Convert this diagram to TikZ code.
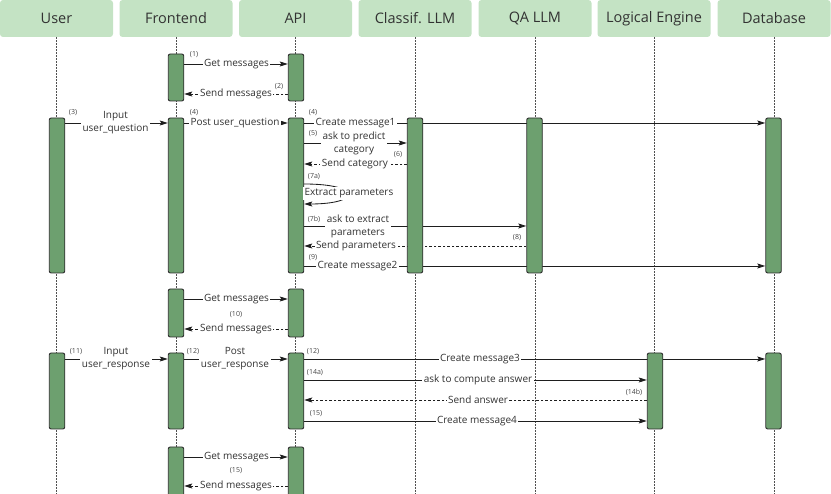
\documentclass[tikz,border=0pt]{standalone}
\usepackage{fontspec}
\setmainfont{Open Sans}
\usetikzlibrary{arrows.meta,backgrounds}

\begin{document}
\begin{tikzpicture}[x=1pt,y=-1pt,>={Stealth[length=8pt,width=5pt,inset=1.5pt]},
  head/.style={fill=headcolor,rounded corners=3pt,minimum width=113pt,
    minimum height=37pt,text=textcolor,font=\fontsize{14.5}{16}\selectfont},
  bar/.style={draw=barline,fill=barcolor,rounded corners=2pt,
    minimum width=15.5pt,inner sep=0pt,line width=0.9pt},
  life/.style={guidecolor,dash pattern=on 1.5pt off 1.5pt,line width=0.7pt},
  msg/.style={->,linecolor,line width=0.85pt},
  reply/.style={msg,dash pattern=on 2.5pt off 2pt},
  lbl/.style={fill=white,inner sep=1.5pt,text=textcolor,align=center,
    font=\fontsize{10}{13}\selectfont},
  num/.style={inner sep=0pt,text=numcolor,font=\fontsize{7}{8}\selectfont}]
\definecolor{headcolor}{RGB}{196,227,196}
\definecolor{barcolor}{RGB}{109,160,111}
\definecolor{barline}{RGB}{45,45,45}
\definecolor{textcolor}{RGB}{50,50,50}
\definecolor{numcolor}{RGB}{70,70,70}
\definecolor{linecolor}{RGB}{30,30,30}
\definecolor{guidecolor}{RGB}{80,80,80}

\useasboundingbox (0,0) rectangle (831,494);
\clip (0,0) rectangle (831,494);

% Participants along the top.
\foreach \nm/\x/\txt in {user/56.5/User, front/176/Frontend, api/295.5/API,
    cls/415/Classif. LLM, qa/535/QA LLM, logic/654/Logical Engine,
    db/774/Database}
  \node[head] (h\nm) at (\x,18.5) {\txt};

% Activation bars: name/x/top/bottom.
\foreach \nm/\x/\ya/\yb in {front1/176/54/101, api1/296/54/101,
    user2/57/118/273, front2/176/118/273, api2/296/118/273,
    cls2/415/118/273, qa2/534.5/118/273, db2/773.5/118/273,
    front3/176/289/337, api3/296/289/337,
    user4/57/353/429, front4/176/353/429, api4/296/353/429,
    logic4/655/353/429, db4/773.5/353/429,
    front5/176/447/505, api5/296/447/505}
  \node[bar,minimum height={\yb-\ya}] (\nm) at (\x,{(\ya+\yb)/2}) {};

\begin{pgfonlayer}{background}
% Lifelines.
\foreach \nm in {user,front,api,cls,qa,logic,db}
  \draw[life] (h\nm.south) -- (h\nm.south |- 0,500);

% First polling round.
\draw[msg] (front1.east |- 0,64) -- (api1.west |- 0,64);
\draw[reply] (api1.west |- 0,94) -- (front1.east |- 0,94);

% Question from the user.
\draw[msg] (user2.east |- 0,123) -- (front2.west |- 0,123);
\draw[msg] (front2.east |- 0,123) -- (api2.west |- 0,123);
\draw[msg] (api2.east |- 0,123) -- (db2.west |- 0,123);
\draw[msg] (api2.east |- 0,143) -- (cls2.west |- 0,143);
\draw[reply] (cls2.west |- 0,164) -- (api2.east |- 0,164);
\draw[msg] (api2.east |- 0,184) .. controls (362,184) and (362,204)
  .. (api2.east |- 0,204);
\draw[msg] (api2.east |- 0,226) -- (qa2.west |- 0,226);
\draw[reply] (qa2.west |- 0,246) -- (api2.east |- 0,246);
\draw[msg] (api2.east |- 0,266) -- (db2.west |- 0,266);

% Second polling round.
\draw[msg] (front3.east |- 0,299) -- (api3.west |- 0,299);
\draw[reply] (api3.west |- 0,329) -- (front3.east |- 0,329);

% Response from the user.
\draw[msg] (user4.east |- 0,359) -- (front4.west |- 0,359);
\draw[msg] (front4.east |- 0,359) -- (api4.west |- 0,359);
\draw[msg] (api4.east |- 0,359) -- (db4.west |- 0,359);
\draw[msg] (api4.east |- 0,380) -- (logic4.west |- 0,380);
\draw[reply] (logic4.west |- 0,400) -- (api4.east |- 0,400);
\draw[msg] (api4.east |- 0,421) -- (logic4.west |- 0,421);

% Third polling round.
\draw[msg] (front5.east |- 0,457) -- (api5.west |- 0,457);
\draw[reply] (api5.west |- 0,486) -- (front5.east |- 0,486);
\end{pgfonlayer}

% Message texts.
\node[lbl] (tGet1) at (236.5,64) {Get messages};
\node[lbl] (tSend1) at (236,94) {Send messages};
\node[lbl] (tInput1) at (115.5,123) {Input\\user\_question};
\node[lbl] (tPost1) at (235,123) {Post user\_question};
\node[lbl] (tMsg1) at (355.5,123) {Create message1};
\node[lbl] (tPredict) at (354,143) {ask to predict\\category};
\node[lbl] (tCat) at (355,164) {Send category};
\node[lbl] (tExtract) at (349,193.5) {Extract parameters};
\node[lbl] (tAskPar) at (358,226) {ask to extract\\parameters};
\node[lbl] (tPar) at (356,246) {Send parameters};
\node[lbl] (tMsg2) at (357.5,266) {Create message2};
\node[lbl] (tGet2) at (236.5,299) {Get messages};
\node[lbl] (tSend2) at (236,329) {Send messages};
\node[lbl] (tInput2) at (116,359) {Input\\user\_response};
\node[lbl] (tPost2) at (235,359) {Post\\user\_response};
\node[lbl] (tMsg3) at (480,359) {Create message3};
\node[lbl] (tCompute) at (478,380) {ask to compute answer};
\node[lbl] (tAnswer) at (478,400) {Send answer};
\node[lbl] (tMsg4) at (477,421) {Create message4};
\node[lbl] (tGet3) at (236.5,457) {Get messages};
\node[lbl] (tSend3) at (236,486) {Send messages};

% Step numbers.
\node[num] (n1) at (194,55) {(1)};
\node[num] (n2) at (279,87) {(2)};
\node[num] (n3) at (73,113) {(3)};
\node[num] (n4a) at (194,113) {(4)};
\node[num] (n4b) at (313,113) {(4)};
\node[num] (n5) at (313,134) {(5)};
\node[num] (n6) at (398,155) {(6)};
\node[num] (n7a) at (314,177) {(7a)};
\node[num] (n7b) at (314,219) {(7b)};
\node[num] (n8) at (517,238) {(8)};
\node[num] (n9) at (313,258) {(9)};
\node[num] (n10) at (236,315) {(10)};
\node[num] (n11) at (76,352) {(11)};
\node[num] (n12a) at (193,352) {(12)};
\node[num] (n12b) at (313,352) {(12)};
\node[num] (n14a) at (315,373) {(14a)};
\node[num] (n14b) at (634,392) {(14b)};
\node[num] (n15a) at (316,414) {(15)};
\node[num] (n15b) at (236,471) {(15)};
\end{tikzpicture}
\end{document}
